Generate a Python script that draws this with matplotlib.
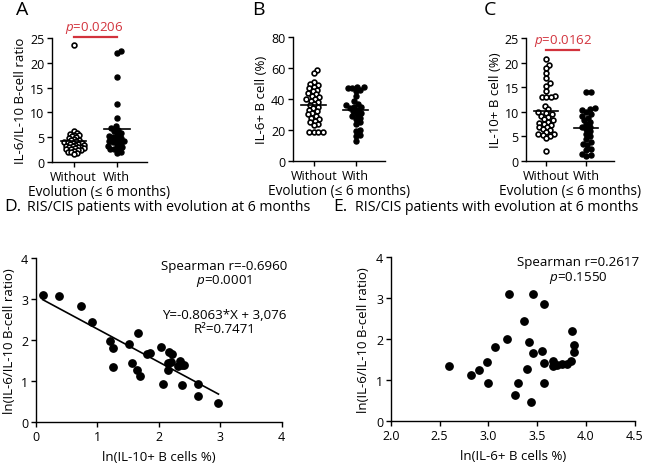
import numpy as np
import matplotlib.pyplot as plt

plt.rcParams['font.family'] = ['Open Sans', 'DejaVu Sans']
plt.rcParams['mathtext.fontset'] = 'custom'
plt.rcParams['mathtext.it'] = 'Open Sans:italic'
plt.rcParams['mathtext.rm'] = 'Open Sans'
plt.rcParams['axes.linewidth'] = 1.0
plt.rcParams['xtick.major.width'] = 1.0
plt.rcParams['ytick.major.width'] = 1.0
plt.rcParams['xtick.major.size'] = 3.5
plt.rcParams['ytick.major.size'] = 3.5
plt.rcParams['xtick.labelsize'] = 9
plt.rcParams['ytick.labelsize'] = 9

groups = ['Without', 'With']

# A: IL-6/IL-10 B-cell ratio
ratio_without = [23.5, 6.2, 5.9, 5.7, 5.5, 5.4, 5.2, 5.0, 4.9, 4.7, 4.5, 4.4, 4.2, 4.1, 4.0, 3.9,
                 3.8, 3.7, 3.6, 3.5, 3.4, 3.3, 3.2, 3.1, 3.0, 2.9, 2.8, 2.7, 2.6, 2.5, 2.4, 2.3,
                 2.2, 2.0, 1.9, 1.7, 1.5]
ratio_with = [22.3, 22.0, 17.2, 11.6, 8.8, 7.2, 6.8, 6.5, 6.2, 5.8, 5.5, 5.2, 5.0, 4.8, 4.5, 4.3,
              4.2, 4.0, 3.8, 3.5, 3.2, 3.0, 2.7, 2.5, 2.5, 2.0, 1.8]

# B: IL-6+ B cell (%)
il6_without = [59, 57, 51, 50, 49, 48, 47, 46, 45, 44, 43, 42, 41, 40, 40, 39, 38, 37, 36, 35,
               34, 33, 32, 31, 30, 29, 28, 27, 26, 25, 24, 23, 19, 18.5, 18.5, 18.5]
il6_with = [48, 47.5, 47, 47, 46, 45, 42, 39, 37, 36, 35, 35, 34, 33, 32, 31, 30, 29, 28, 27,
            25, 24, 20, 19.5, 17, 16, 13]

# C: IL-10+ B cell (%)
il10_without = [20.8, 19.5, 18.8, 17.8, 16.8, 15.8, 15.2, 14.2, 13.3, 13.0, 12.9, 12.9, 11.2, 10.6,
                10.0, 9.8, 9.5, 9.2, 9.0, 8.6, 8.3, 8.0, 7.8, 7.6, 7.4, 7.0, 6.8, 6.5, 6.2, 5.8,
                5.5, 5.4, 5.2, 5.0, 4.6, 2.0]
il10_with = [14, 14, 10.7, 10.5, 10.3, 10.0, 9.5, 9.2, 8.8, 8.3, 8.0, 7.5, 7.0, 6.8, 6.5, 6.0,
             5.5, 5.0, 4.5, 3.8, 3.5, 3.2, 2.5, 2.3, 1.5, 1.2, 1.0]

# D: ln(IL-10+ B cells %) vs ln(ratio)
d_x = [0.11, 0.37, 0.73, 0.91, 1.20, 1.26, 1.25, 1.51, 1.66, 1.56, 1.65, 1.69, 1.81, 1.85, 2.03,
       2.07, 2.16, 2.21, 2.15, 2.19, 2.15, 2.31, 2.34, 2.37, 2.41, 2.38, 2.64, 2.63, 2.97]
d_y = [3.09, 3.07, 2.84, 2.44, 1.97, 1.80, 1.34, 1.90, 2.17, 1.44, 1.26, 1.12, 1.65, 1.69, 1.83,
       0.93, 1.70, 1.67, 1.45, 1.46, 1.27, 1.36, 1.49, 1.40, 1.40, 0.91, 0.93, 0.64, 0.47]
slope, intercept = -0.8063, 3.076

# E: ln(IL-6+ B cells %) vs ln(ratio)
e_x = [3.21, 3.46, 3.57, 3.36, 3.86, 3.19, 3.07, 3.42, 3.46, 3.55, 3.88, 3.88, 2.99, 3.57, 3.66,
       3.66, 3.70, 3.75, 3.81, 3.85, 2.60, 2.82, 2.90, 3.40, 3.00, 3.30, 3.57, 3.27, 3.44]
e_y = [3.11, 3.09, 2.86, 2.45, 2.20, 2.00, 1.81, 1.92, 1.66, 1.70, 1.86, 1.69, 1.45, 1.41, 1.47,
       1.35, 1.37, 1.39, 1.39, 1.47, 1.34, 1.12, 1.25, 1.26, 0.93, 0.92, 0.93, 0.63, 0.46]

RED = '#d2323c'
fig = plt.figure(figsize=(6.45, 4.64), dpi=100)


def style(ax):
    ax.spines['top'].set_visible(False)
    ax.spines['right'].set_visible(False)
    ax.tick_params(pad=2)


def swarm(ax, vals, pos, d):
    # simple beeswarm in pixel space
    pts = ax.transData.transform(np.column_stack([np.full(len(vals), pos), vals]))
    cx = pts[0, 0]
    placed = []
    xs = np.zeros(len(vals))
    for i in np.argsort(vals):
        y = pts[i, 1]
        near = [(px, py) for px, py in placed if abs(py - y) < d]
        cands = [0.0]
        for px, py in near:
            dx = np.sqrt(d * d - (py - y) ** 2)
            cands += [px + dx, px - dx]
        cands.sort(key=abs)
        for c in cands:
            if all((c - px) ** 2 + (y - py) ** 2 >= d * d - 1e-6 for px, py in near):
                break
        placed.append((c, y))
        xs[i] = c
    out = ax.transData.inverted().transform(np.column_stack([cx + xs, pts[:, 1]]))
    return out[:, 0]


def dotplot(rect, a, b, ylim, yticks, ylabel, letter, lx, da, db):
    ax = fig.add_axes(rect)
    style(ax)
    ax.set_xlim(-0.5, 1.7)
    ax.set_ylim(*ylim)
    ax.set_yticks(yticks)
    ax.set_xticks([0, 1])
    ax.set_xticklabels(groups)
    ax.tick_params(axis='x', length=3.5)
    ax.set_ylabel(ylabel, fontsize=9.5, labelpad=2)
    ax.set_xlabel('Evolution (≤ 6 months)', fontsize=9.8, labelpad=1)
    xa = swarm(ax, a, 0, da)
    xb = swarm(ax, b, 1, db)
    ax.scatter(xa, a, s=12, facecolors='white', edgecolors='black', linewidths=1.2,
               clip_on=False, zorder=3)
    ax.scatter(xb, b, s=13, color='black', clip_on=False, zorder=3)
    for p, v in zip([0, 1], [a, b]):
        ax.plot([p - 0.3, p + 0.3], [np.mean(v)] * 2, color='black', lw=1.2, zorder=4)
    fig.text(lx, 0.978, letter, fontsize=14, ha='center', va='center')
    return ax


axA = dotplot([0.0806, 0.649, 0.147, 0.267], ratio_without, ratio_with, (0, 25),
              [0, 5, 10, 15, 20, 25], 'IL-6/IL-10 B-cell ratio', 'A', 0.034, 3.2, 4.2)
axA.plot([0, 1], [25.1, 25.1], color=RED, lw=1.6, clip_on=False)
axA.text(0.47, 25.5, '$p$=0.0206', color=RED, fontsize=9.5, ha='center', va='bottom')

axB = dotplot([0.454, 0.651, 0.143, 0.267], il6_without, il6_with, (0, 80),
              [0, 20, 40, 60, 80], 'IL-6+ B cell (%)', 'B', 0.400, 4.6, 4.6)

axC = dotplot([0.816, 0.651, 0.136, 0.265], il10_without, il10_with, (0, 25),
              [0, 5, 10, 15, 20, 25], 'IL-10+ B cell (%)', 'C', 0.760, 4.6, 4.6)
axC.plot([0, 0.82], [22.6, 22.6], color=RED, lw=1.6, clip_on=False)
axC.text(0.41, 23.0, '$p$=0.0162', color=RED, fontsize=9.5, ha='center', va='bottom')

# D
axD = fig.add_axes([0.0558, 0.0884, 0.381, 0.353])
style(axD)
axD.scatter(d_x, d_y, s=28, color='black', clip_on=False, zorder=3)
xl = np.array([min(d_x), max(d_x)])
axD.plot(xl, slope * xl + intercept, color='black', lw=1.2)
axD.set_xlim(0, 4)
axD.set_ylim(0, 4)
axD.set_xticks([0, 1, 2, 3, 4])
axD.set_yticks([0, 1, 2, 3, 4])
axD.set_xlabel('ln(IL-10+ B cells %)', fontsize=9.5, labelpad=5)
axD.set_ylabel('ln(IL-6/IL-10 B-cell ratio)', fontsize=9.5, labelpad=4)
stat_fs = 9.6
axD.text(3.07, 3.82, 'Spearman r=-0.6960', fontsize=stat_fs, ha='center', va='center')
axD.text(3.07, 3.46, '$p$=0.0001', fontsize=stat_fs, ha='center', va='center')
axD.text(3.07, 2.63, 'Y=-0.8063*X + 3,076', fontsize=stat_fs, ha='center', va='center')
axD.text(3.07, 2.28, 'R²=0.7471', fontsize=stat_fs, ha='center', va='center')
fig.text(0.006, 0.553, 'D.', fontsize=12.5, ha='left', va='center')
fig.text(0.042, 0.553, 'RIS/CIS patients with evolution at 6 months', fontsize=10.2,
         ha='left', va='center')

# E
axE = fig.add_axes([0.606, 0.0905, 0.378, 0.353])
style(axE)
axE.scatter(e_x, e_y, s=28, color='black', clip_on=False, zorder=3)
axE.set_xlim(2.0, 4.5)
axE.set_ylim(0, 4)
axE.set_xticks([2.0, 2.5, 3.0, 3.5, 4.0, 4.5])
axE.set_xticklabels(['2.0', '2.5', '3.0', '3.5', '4.0', '4.5'])
axE.set_yticks([0, 1, 2, 3, 4])
axE.set_xlabel('ln(IL-6+ B cells %)', fontsize=9.5, labelpad=5)
axE.set_ylabel('ln(IL-6/IL-10 B-cell ratio)', fontsize=9.5, labelpad=4)
axE.text(3.92, 3.89, 'Spearman r=0.2617', fontsize=stat_fs, ha='center', va='center')
axE.text(3.92, 3.52, '$p$=0.1550', fontsize=stat_fs, ha='center', va='center')
fig.text(0.516, 0.553, 'E.', fontsize=12.5, ha='left', va='center')
fig.text(0.551, 0.553, 'RIS/CIS patients with evolution at 6 months', fontsize=10.2,
         ha='left', va='center')

fig.savefig('out.png', dpi=100)
